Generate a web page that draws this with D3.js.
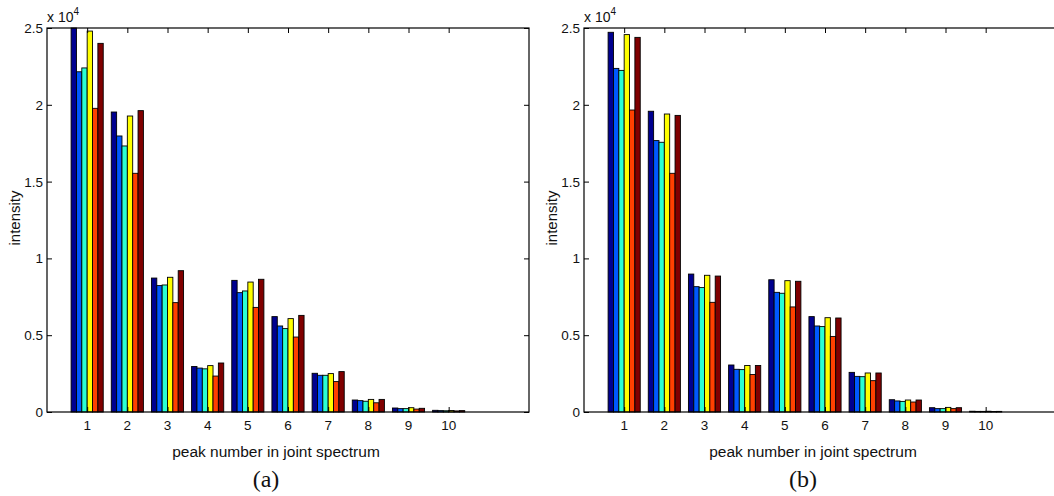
<!DOCTYPE html>
<html>
<head>
<meta charset="utf-8">
<script src="https://cdn.jsdelivr.net/npm/d3@7"></script>
<style>
  body { margin: 0; background: #fff; }
  svg { display: block; font-family: "Liberation Sans", Arial, sans-serif; }
</style>
</head>
<body>
<svg id="chart" width="1054" height="496"></svg>
<script>
// peak numbers on the x axis
const peaks = [1, 2, 3, 4, 5, 6, 7, 8, 9, 10]
const yTicks = [0, 5000, 10000, 15000, 20000, 25000]

// panel (a): one array per bar series, values per peak
const aNavy   = [25000, 19530, 8720, 2960, 8570, 6210, 2520, 780, 260, 110]
const aBlue   = [22150, 17970, 8230, 2860, 7770, 5600, 2390, 740, 220, 90]
const aCyan   = [22400, 17320, 8270, 2810, 7880, 5430, 2390, 700, 220, 80]
const aYellow = [24800, 19270, 8770, 3020, 8460, 6080, 2500, 820, 280, 100]
const aOrange = [19770, 15540, 7120, 2340, 6810, 4880, 1980, 600, 190, 70]
const aRed    = [24000, 19620, 9200, 3190, 8640, 6290, 2630, 820, 240, 90]

// panel (b)
const bNavy   = [24720, 19580, 8980, 3060, 8610, 6210, 2580, 800, 280, 50]
const bBlue   = [22370, 17670, 8160, 2780, 7790, 5600, 2320, 720, 220, 40]
const bCyan   = [22240, 17560, 8100, 2760, 7730, 5560, 2300, 690, 220, 40]
const bYellow = [24570, 19400, 8900, 3030, 8550, 6140, 2540, 780, 300, 50]
const bOrange = [19660, 15540, 7140, 2440, 6840, 4920, 2040, 650, 220, 30]
const bRed    = [24390, 19310, 8850, 3030, 8510, 6120, 2540, 780, 280, 40]

const colors = ['#00008f', '#0058ff', '#2affd4', '#ffff00', '#ff4000', '#800000']

const svg = d3.select('#chart')

function drawPanel(left, series, tag){
    var top = 28, bottom = 412, width = 482
    var x = d3.scaleLinear().domain([0, 12]).range([left, left + width])
    var y = d3.scaleLinear().domain([0, 25000]).range([bottom, top])
    var step = x(1) - x(0)
    var inner = d3.scaleBand().domain(d3.range(series.length)).range([-0.4 * step, 0.4 * step]).padding(0)

    var g = svg.append('g')

    // bars
    series.forEach(function(vals, s){
        g.append('g').selectAll('rect').data(vals).enter().append('rect')
            .attr('x', (d, i) => x(peaks[i]) + inner(s))
            .attr('y', d => y(Math.min(d, 25000)))
            .attr('width', inner.bandwidth())
            .attr('height', d => bottom - y(Math.min(d, 25000)))
            .attr('fill', colors[s])
            .attr('stroke', '#000')
            .attr('stroke-width', 0.9)
    })

    // axes, ticks inward on all four sides
    var xb = d3.axisTop(x).tickValues(peaks).tickSize(5).tickFormat('')
    var xt = d3.axisBottom(x).tickValues(peaks).tickSize(5).tickFormat('')
    var yl = d3.axisRight(y).tickValues(yTicks).tickSize(5).tickFormat('')
    var yr = d3.axisLeft(y).tickValues(yTicks).tickSize(5).tickFormat('')
    var right = left + width
    g.append('g').attr('transform', `translate(0,${bottom})`).call(xb)
    g.append('g').attr('transform', `translate(0,${top})`).call(xt)
    g.append('g').attr('transform', `translate(${left},0)`).call(yl)
    g.append('g').attr('transform', `translate(${right},0)`).call(yr)
    g.selectAll('.domain').remove()
    g.selectAll('.tick line').attr('stroke', '#000').attr('stroke-width', 1)

    g.append('rect').attr('x', left).attr('y', top).attr('width', width).attr('height', bottom - top)
        .attr('fill', 'none').attr('stroke', '#000').attr('stroke-width', 1.2)

    // tick labels
    g.selectAll('.xlab').data(peaks).enter().append('text')
        .attr('x', d => x(d)).attr('y', 430)
        .attr('text-anchor', 'middle').attr('font-size', 13.5).attr('fill', '#111')
        .text(d => d)
    g.selectAll('.ylab').data(yTicks).enter().append('text')
        .attr('x', left - 4).attr('y', d => y(d) + 5)
        .attr('text-anchor', 'end').attr('font-size', 13.5).attr('fill', '#111')
        .text(d => d / 10000)

    var mult = g.append('text').attr('x', left).attr('y', 22).attr('font-size', 14).attr('fill', '#111')
    mult.append('tspan').text('x 10')
    mult.append('tspan').attr('dy', -7).attr('font-size', 10).text('4')

    g.append('text')
        .attr('transform', `translate(${left - 27},${(top + bottom) / 2 - 2}) rotate(-90)`)
        .attr('text-anchor', 'middle').attr('font-size', 15).attr('fill', '#111')
        .text('intensity')

    g.append('text')
        .attr('x', left + width / 2 - 12).attr('y', 457)
        .attr('text-anchor', 'middle').attr('font-size', 15.5).attr('fill', '#111')
        .text('peak number in joint spectrum')

    g.append('text')
        .attr('x', left + width / 2 - 22).attr('y', 487)
        .attr('text-anchor', 'middle').attr('font-size', 24)
        .attr('font-family', '"Liberation Serif", "Times New Roman", serif').attr('fill', '#111')
        .text(tag)
}

drawPanel(47, [aNavy, aBlue, aCyan, aYellow, aOrange, aRed], '(a)')
drawPanel(584, [bNavy, bBlue, bCyan, bYellow, bOrange, bRed], '(b)')
</script>
</body>
</html>
